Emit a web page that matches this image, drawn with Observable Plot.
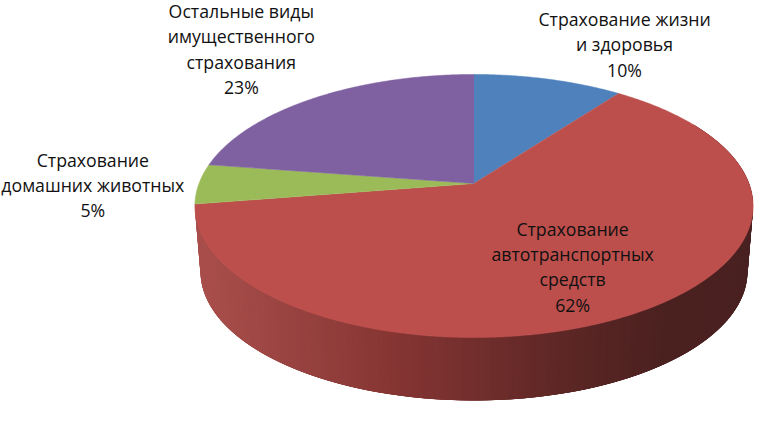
<!DOCTYPE html>
<html lang="ru">
<head>
<meta charset="utf-8">
<style>html,body{margin:0;padding:0;background:#fff}svg{display:block}</style>
<script src="https://cdn.jsdelivr.net/npm/d3@7"></script>
<script src="https://cdn.jsdelivr.net/npm/@observablehq/plot@0.6"></script>
</head>
<body>
<div id="chart"></div>
<script>
const categories = ["Страхование жизни\nи здоровья", "Страхование\nавтотранспортных\nсредств", "Страхование\nдомашних животных", "Остальные виды\nимущественного\nстрахования"];
const shares = [10.2, 62.3, 4.9, 22.6];
const colors = ["#4F81BD", "#BC4F4C", "#9BBB59", "#7F60A0"];

// Tilted disc: a perspective view of a circle
const tilt = 0.171;
const project = (deg, scale = 1, drop = 0) => {
  const t = deg * Math.PI / 180, s = -Math.cos(t), w = 1 - tilt * s;
  return {x: scale * Math.sin(t) / w, y: scale * s / w + drop};
};

const starts = d3.cumsum([0, ...shares]);
const toDeg = (p) => p * 3.6;

const slices = categories.flatMap((c, i) => {
  const a0 = toDeg(starts[i]), a1 = toDeg(starts[i + 1]);
  const rows = [{key: c, color: colors[i], x: 0, y: 0}];
  for (let a = a0; a < a1; a += 0.5) rows.push({key: c, color: colors[i], ...project(a)});
  rows.push({key: c, color: colors[i], ...project(a1)});
  return rows;
});

// Side wall of the largest slice, shaded from left to right; each band overlaps the next
const shade = d3.scaleLinear()
  .domain([-1, -0.35, 0, 0.31, 0.64, 1])
  .range(["#A84E4B", "#853533", "#6E2D2B", "#5A2624", "#4B2120", "#4A2020"]);
const wallScale = 0.98, wallDrop = 0.517, wallEnd = toDeg(starts[2]);
const wall = d3.range(60, wallEnd, 1).flatMap((a) => {
  const b = Math.max(a - 3, 60), e = Math.min(a + 1, wallEnd);
  const color = shade(project(a + 0.5).x);
  return [project(b), project(e), project(e, wallScale, wallDrop), project(b, wallScale, wallDrop)]
    .map((p) => ({key: a, color, x: p.x, y: p.y}));
});

const labelOffsets = [[76, -36], [-68, -46], [-106, 0], [-74, -50]];
const labels = categories.map((c, i) => {
  const p = project(toDeg((starts[i] + starts[i + 1]) / 2));
  return {x: p.x, y: p.y, text: `${c}\n${Math.round(shares[i])}%`, dx: labelOffsets[i][0], dy: labelOffsets[i][1]};
});

const chart = Plot.plot({
  width: 760,
  height: 424,
  margin: 0,
  x: {domain: [-1, 1], range: [198.5, 748.5], axis: null},
  y: {domain: [-1, 1], range: [55.3, 310.7], axis: null},
  color: {type: "identity"},
  style: {background: "#fff"},
  marks: [
    Plot.line(wall, {x: "x", y: "y", z: "key", fill: "color", stroke: "none"}),
    Plot.line(slices, {x: "x", y: "y", z: "key", fill: "color", stroke: "color", strokeWidth: 0.5}),
    ...labels.map((l) => Plot.text([l], {
      x: "x", y: "y", text: "text", dx: l.dx, dy: l.dy,
      fontFamily: "'Open Sans'", fontSize: 17.7, lineHeight: 1.43,
      fill: "#111", lineAnchor: "middle", textAnchor: "middle"
    }))
  ]
});
document.getElementById("chart").appendChild(chart);
</script>
</body>
</html>
